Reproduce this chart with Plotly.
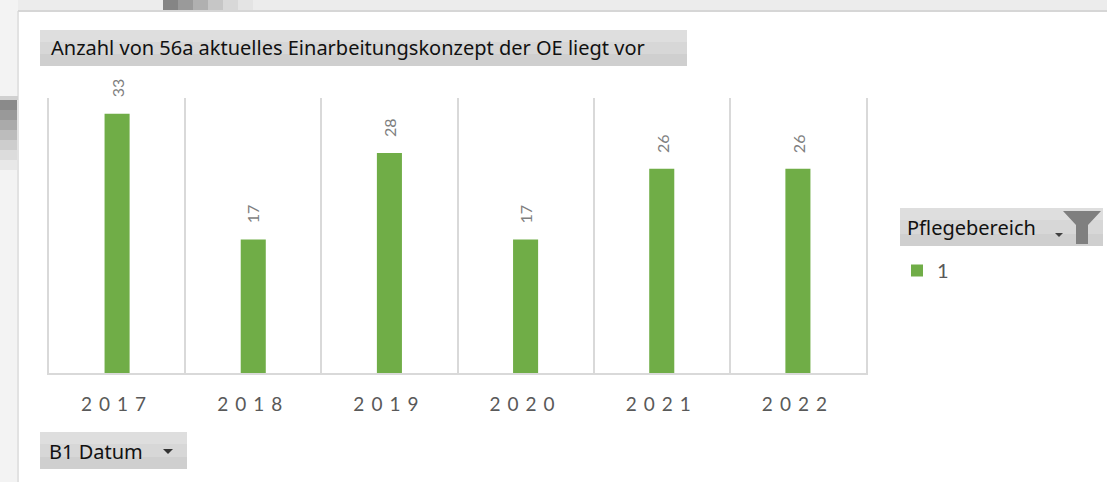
import plotly.graph_objects as go

# ---- data ----
years = ["2017", "2018", "2019", "2020", "2021", "2022"]
counts = [33, 17, 28, 17, 26, 26]
series_name = "1"
title_text = "Anzahl von 56a aktuelles Einarbeitungskonzept der OE liegt vor"
legend_header = "Pflegebereich"
axis_button = "B1 Datum"

W, H = 1107, 482


def px(x):
    return x / W


def py(y):
    return 1 - y / H


GREEN = "#70ad47"
GRID = "#d9d9d9"
LABEL = "#595959"

fig = go.Figure()
fig.add_trace(go.Bar(
    x=years, y=counts, name=series_name,
    marker=dict(color=GREEN, line=dict(width=0)),
    showlegend=True, hoverinfo="x+y",
))

for i, c in enumerate(counts):
    fig.add_annotation(
        x=i, y=c, text=str(c), textangle=-90, showarrow=False,
        yanchor="bottom", xanchor="center", yshift=14,
        font=dict(family="Lato", size=16, color="#7f7f7f"),
    )


def rect(x0, x1, y0, y1, color, layer="below"):
    return dict(type="rect", xref="paper", yref="paper", x0=px(x0), x1=px(x1),
                y0=py(y1), y1=py(y0), fillcolor=color, line=dict(width=0), layer=layer)


def poly(xs, ys, color):
    path = "M " + " L ".join(f"{px(a)},{py(b)}" for a, b in zip(xs, ys)) + " Z"
    return dict(type="path", xref="paper", yref="paper", path=path,
                fillcolor=color, line=dict(width=0))


shapes = []
# screenshot frame: left strip and top strip
shapes.append(rect(0, 18, 0, H, "#f3f3f3"))
shapes.append(rect(17, 19, 11, H, "#e2e2e2"))
shapes.append(rect(0, 18, 96, 100, "#d0d0d0"))
for k, col in enumerate(["#8a8a8a", "#999999", "#aaaaaa", "#bcbcbc", "#cdcdcd", "#dcdcdc", "#e8e8e8"]):
    shapes.append(rect(0, 17, 100 + 10 * k, 110 + 10 * k, col))
shapes.append(rect(18, W, 0, 10, "#ececec"))
for k, col in enumerate(["#858585", "#9a9a9a", "#b0b0b0", "#c6c6c6", "#d8d8d8", "#e4e4e4"]):
    shapes.append(rect(163 + 15 * k, 178 + 15 * k, 0, 10, col))
shapes.append(rect(18, W, 10, 12, "#d6d6d6"))
# title box
shapes.append(rect(40, 687, 30, 66, "#cfcfcf"))
shapes.append(rect(40, 687, 30, 54, "#d7d7d7"))
shapes.append(rect(40, 687, 30, 42, "#dedede"))
# legend header box
shapes.append(rect(900, 1103, 208, 246, "#cfcfcf"))
shapes.append(rect(900, 1103, 208, 234, "#d7d7d7"))
shapes.append(rect(900, 1103, 208, 220, "#dedede"))
# funnel icon
shapes.append(poly([1063, 1101, 1088, 1088, 1076, 1076], [211, 211, 225, 244, 244, 225], "#7f7f7f"))
shapes.append(poly([1055, 1063, 1059], [233, 233, 237], "#404040"))
# axis button box
shapes.append(rect(40, 187, 432, 469, "#cfcfcf"))
shapes.append(rect(40, 187, 432, 457, "#d7d7d7"))
shapes.append(rect(40, 187, 432, 444, "#dedede"))
shapes.append(poly([163, 173, 168], [449, 449, 454], "#333333"))

annots = [
    dict(xref="paper", yref="paper", x=px(49), y=py(48), text=title_text, showarrow=False,
         xanchor="left", yanchor="middle", font=dict(family="Noto Sans", size=20, color="#111111")),
    dict(xref="paper", yref="paper", x=px(905), y=py(227), text=legend_header, showarrow=False,
         xanchor="left", yanchor="middle", font=dict(family="Noto Sans", size=20, color="#111111")),
    dict(xref="paper", yref="paper", x=px(47), y=py(451), text=axis_button, showarrow=False,
         xanchor="left", yanchor="middle", font=dict(family="Noto Sans", size=20, color="#111111")),
]

fig.update_layout(
    width=W, height=H,
    margin=dict(l=0, r=0, t=0, b=0),
    paper_bgcolor="white", plot_bgcolor="white",
    bargap=0.816,
    shapes=shapes,
    showlegend=True,
    legend=dict(x=px(897), y=py(251), xanchor="left", yanchor="top",
                font=dict(family="Lato", size=20, color=LABEL),
                bgcolor="rgba(0,0,0,0)", borderwidth=0),
    xaxis=dict(
        domain=[px(49), px(866)], type="category", range=[-0.5, 5.5],
        tickson="boundaries", showgrid=True, gridcolor=GRID, gridwidth=2,
        showline=True, linecolor=GRID, linewidth=2, ticks="",
        tickmode="array", tickvals=list(range(len(years))),
        ticktext=[f"<span style='letter-spacing:7px'>{y}</span>" for y in years],
        tickfont=dict(family="Lato", size=19, color=LABEL),
        ticklabelstandoff=13, zeroline=False, automargin=False,
    ),
    yaxis=dict(
        domain=[py(373), py(98)], range=[0, 35],
        showgrid=False, showticklabels=False, showline=True, mirror=True,
        linecolor=GRID, linewidth=2, zeroline=False, ticks="", automargin=False,
    ),
    font=dict(family="Lato"),
)
for a in annots:
    fig.add_annotation(**a)

fig.write_html("out.html")
